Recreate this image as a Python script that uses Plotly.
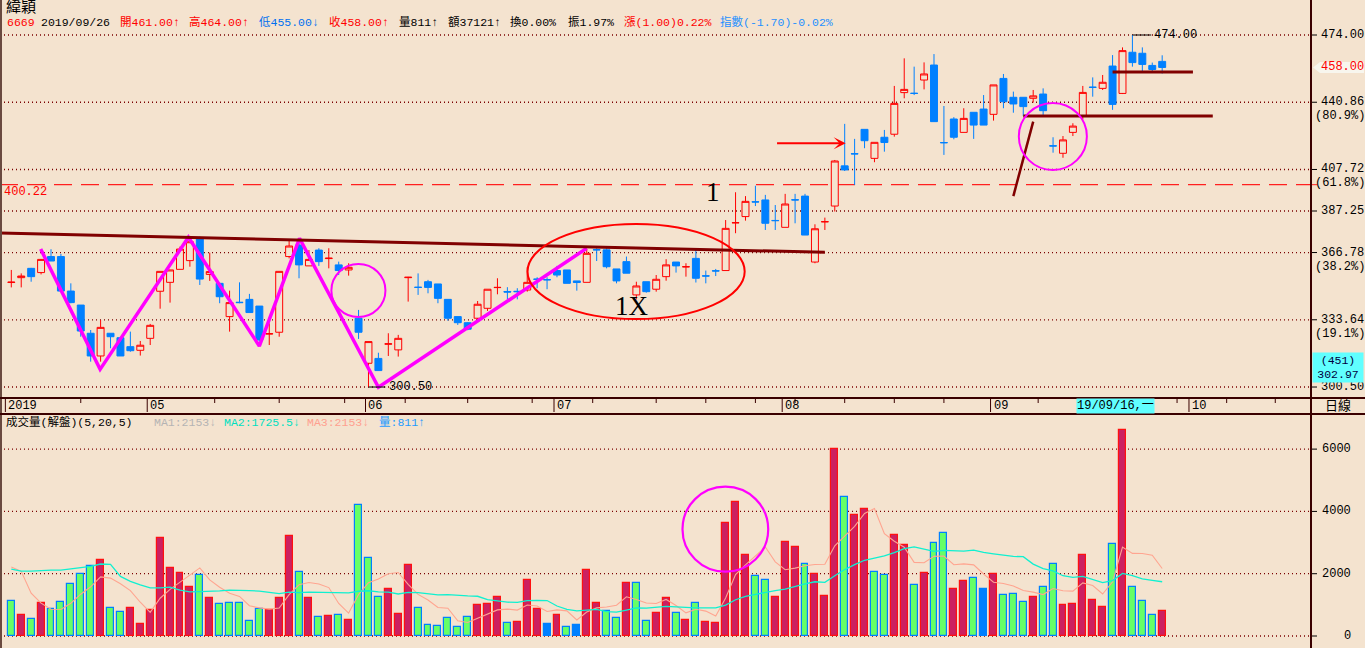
import plotly.graph_objects as go
import pandas as pd

# ---------------- data ----------------
days = list(range(1, 118))

opens = [352.0, 354.4, 359.0, 356.9, 364.8, 364.8, 347.8, 340.9, 327.0, 315.8,
         327.0, 324.8, 320.4, 318.6, 324.5, 347.7, 352.1, 358.5, 362.8, 373.8,
         356.0, 351.6, 335.2, 342.3, 343.7, 340.4, 326.6, 327.5, 364.8, 370.5,
         360.2, 368.0, 363.8, 360.7, 358.2, 334.4, 312.2, 314.6, 321.6, 318.8,
         354.4, 349.7, 352.4, 351.3, 343.7, 335.2, 332.2, 334.4, 339.3, 349.5,
         347.6, 347.7, 348.3, 353.7, 353.5, 357.9, 358.2, 352.8, 352.1, 368.2,
         368.1, 358.7, 362.3, 345.9, 352.4, 348.7, 354.9, 362.1, 359.7, 363.9,
         355.3, 357.8, 357.9, 381.4, 384.5, 391.8, 392.7, 382.6, 379.2, 392.8,
         394.6, 362.1, 381.9, 389.7, 409.5, 415.5, 427.5, 413.2, 423.6, 425.1,
         445.6, 445.3, 451.8, 459.2, 421.0, 432.6, 426.0, 435.9, 437.5, 434.9,
         452.6, 443.3, 443.3, 442.8, 444.9, 419.4, 415.7, 426.0, 434.1, 448.3,
         447.7, 458.7, 445.2, 465.5, 465.0, 459.0, 461.0]

highs = [358.2, 356.5, 359.2, 363.6, 368.4, 366.1, 351.6, 340.9, 328.6, 333.5,
         327.0, 324.8, 327.8, 323.2, 331.6, 357.5, 358.2, 369.7, 374.6, 374.6,
         366.7, 351.6, 348.0, 352.1, 346.4, 340.4, 331.9, 357.5, 373.3, 373.3,
         368.0, 368.9, 368.9, 362.3, 361.5, 338.5, 322.9, 317.4, 327.0, 326.2,
         354.8, 356.5, 353.3, 351.3, 343.7, 335.2, 332.5, 342.9, 348.7, 354.1,
         349.7, 349.2, 359.5, 354.6, 354.6, 360.2, 358.2, 352.8, 368.4, 368.9,
         368.9, 358.7, 364.8, 352.4, 352.4, 355.7, 363.5, 362.1, 361.5, 368.4,
         357.9, 358.7, 382.8, 396.5, 394.6, 399.7, 395.2, 390.2, 395.7, 395.7,
         395.7, 380.7, 384.0, 412.4, 430.2, 422.8, 427.5, 421.1, 427.2, 448.9,
         462.5, 458.4, 460.5, 464.6, 439.0, 433.5, 437.9, 435.9, 444.4, 449.4,
         454.8, 446.1, 443.3, 446.9, 447.7, 423.6, 424.2, 430.5, 448.9, 453.1,
         454.3, 464.1, 467.9, 474.0, 467.9, 460.4, 464.0]

lows = [349.6, 349.6, 352.4, 356.0, 362.6, 347.8, 341.8, 325.3, 313.0, 313.0,
        319.6, 315.8, 317.9, 316.0, 321.2, 339.1, 342.1, 358.5, 359.8, 350.8,
        352.8, 341.8, 327.8, 341.8, 337.2, 322.9, 321.2, 325.3, 363.9, 354.1,
        360.2, 360.2, 359.0, 355.7, 355.4, 324.2, 300.5, 308.6, 315.8, 315.5,
        342.6, 345.9, 346.7, 341.8, 333.2, 331.1, 328.5, 332.7, 338.0, 346.2,
        343.7, 343.7, 347.5, 349.2, 348.7, 354.6, 351.6, 348.0, 352.1, 362.6,
        359.0, 351.6, 356.6, 343.7, 347.0, 347.5, 352.9, 356.9, 354.9, 352.0,
        351.6, 355.2, 357.9, 376.3, 382.5, 389.7, 377.9, 377.9, 379.2, 381.2,
        375.4, 361.5, 377.9, 387.0, 407.0, 400.1, 418.2, 411.3, 416.5, 423.9,
        442.8, 444.4, 447.2, 431.3, 414.9, 422.6, 426.0, 422.8, 429.6, 431.8,
        437.9, 435.7, 434.1, 440.7, 434.6, 416.0, 413.5, 424.2, 432.4, 443.6,
        446.9, 437.1, 444.9, 458.4, 455.9, 455.9, 455.0]

closes = [352.2, 355.2, 354.9, 363.4, 362.6, 347.8, 342.1, 328.1, 315.8, 329.9,
          325.3, 315.8, 318.4, 321.1, 330.9, 357.5, 358.2, 368.5, 372.1, 353.7,
          357.4, 345.0, 342.1, 342.1, 337.2, 323.7, 326.8, 357.5, 370.0, 360.7,
          363.4, 362.3, 364.0, 357.9, 359.5, 327.5, 322.9, 308.6, 321.8, 324.5,
          354.6, 349.6, 349.6, 344.2, 334.4, 332.2, 329.0, 341.3, 348.7, 349.6,
          347.3, 347.5, 352.1, 353.6, 353.3, 355.7, 351.6, 352.0, 366.4, 368.1,
          359.8, 352.8, 356.6, 350.3, 347.5, 353.6, 360.7, 360.2, 359.8, 354.1,
          355.2, 357.7, 378.7, 381.5, 392.0, 391.7, 381.2, 382.5, 390.7, 392.7,
          375.4, 378.5, 382.0, 411.9, 407.5, 415.4, 421.9, 421.1, 421.0, 440.3,
          447.2, 445.2, 454.8, 431.3, 420.9, 423.6, 432.9, 429.6, 429.6, 449.4,
          441.1, 440.0, 438.7, 444.0, 436.7, 419.3, 422.3, 429.1, 445.7, 448.2,
          450.7, 439.8, 466.3, 460.4, 459.5, 457.0, 458.0]

volumes = [1129, 677, 548, 1064, 871, 1097, 1677, 2000, 2258, 2451,
           903, 774, 903, 387, 839, 3161, 2193, 2032, 1580, 1967,
           1226, 1032, 1064, 1064, 484, 871, 839, 1226, 3225, 2064,
           1226, 613, 645, 677, 516, 4193, 2516, 1258, 1516, 710,
           2290, 903, 355, 323, 581, 290, 613, 1000, 1032, 1258,
           419, 452, 1806, 871, 387, 677, 290, 355, 2129, 1064,
           806, 581, 1709, 1709, 484, 742, 1226, 742, 516, 1064,
           452, 419, 3644, 4289, 2612, 1935, 1806, 1258, 3032, 2870,
           2322, 2000, 1290, 6000, 4451, 3870, 4064, 2070, 1957, 3243,
           2919, 1622, 2011, 2984, 3308, 1524, 1751, 1849, 1524, 1978,
           1330, 1362, 1103, 1265, 1589, 2303, 1005, 1038, 2594, 1168,
           941, 2951, 6616, 1589, 1135, 681, 811]

# r = up vs previous close, g = down, b = unchanged
vol_dir = list("grgrgggggr" "ggrrrrrrrg" "rgggggrrrg" "rgrgrgggrr"
               "rggggggrrr" "grrrbrgbrr" "ggrggrrgrg" "rrrrrggrrr"
               "grrrgrrggr" "rgrggrrgbr" "gggrggrrrr" "rgrgggr")

# moving averages at the left edge (their earlier inputs are off-screen)
ma5_head = [2215, 2075, 1376, 1054]
ma20_head = [2150, 2086, 2086, 2107, 2118, 2118, 2150, 2193, 2236, 2311,
             2300, 1913, 1752, 1645, 1548, 1548, 1570, 1473, 1419]

price_levels = [474.00, 440.86, 407.72, 387.25, 366.78, 333.64, 300.50]
level_pct = {440.86: "(80.9%)", 407.72: "(61.8%)", 366.78: "(38.2%)", 333.64: "(19.1%)"}
dash_level = 400.22
vol_levels = [0, 2000, 4000, 6000]

month_ticks = [0.7, 15, 37, 56, 79, 100, 120]
month_labels = ["2019", "05", "06", "07", "08", "09", "10"]
minor_ticks = [8, 21.5, 28, 34.6, 40.7, 47, 53.5, 59.6, 66, 71, 76, 80, 85,
               90, 95, 104.5, 118.5, 123.5, 128.4]

# hand drawings on the chart (bar index, price)
zigzag_x = [3.96, 9.95, 18.85, 26.0, 30.05, 38.0, 59.0]
zigzag_y = [368.5, 309.2, 374.3, 320.7, 373.8, 300.4, 368.9]
resist_line = [(-0.14, 376.4), (83.0, 366.9)]
hline_a = [(112.0, 455.8), (120.1, 455.8)]
hline_b = [(103.0, 434.1), (122.1, 434.1)]
diag_line = [(102.0, 394.6), (104.0, 431.3)]
circle_a = (33.26, 38.71, 335.0, 361.1)
circle_b = (102.55, 109.41, 407.5, 440.5)
circle_vol = (68.65, 77.29, 2064, 4793)
ellipse_red = (53.03, 74.92, 334.0, 380.9)
arrow_tail = (78.03, 420.6)
arrow_tip = (85.1, 420.6)

# ---------------- geometry / style ----------------
W, H = 1365, 648
PLOT_R = 1311
MAIN_BOTTOM = 398
VOL_TOP = 414
X_LO, X_HI = -0.14, 132.0
P_LO, P_HI = 295.09, 491.25
V_LO, V_HI = -385, 7127

BG = "#F4E3CF"
UP = "#FF0000"
DOWN = "#0080FF"
GRID = "#7A0000"
FRAME = "#3A0000"
MAROON = "#800000"
MAGENTA = "#FF00FF"
CYAN = "#60FFFF"
MONO = "'Liberation Mono', 'Noto Sans CJK TC', monospace"
SERIF = "'Liberation Serif', serif"


def px(x):
    return x / W


def py(y):
    return 1 - y / H


vol = pd.Series(volumes, dtype=float)
ma5 = vol.rolling(5).mean().tolist()
ma20 = vol.rolling(20).mean().tolist()
ma5[:len(ma5_head)] = ma5_head
ma20[:len(ma20_head)] = ma20_head

fill_map = {"r": "#CC2060", "g": "#66FF66", "b": "#0080FF"}
edge_map = {"r": "#FF1010", "g": "#0080FF", "b": "#0080FF"}

fig = go.Figure()

fig.add_trace(go.Candlestick(
    x=days, open=opens, high=highs, low=lows, close=closes,
    increasing=dict(line=dict(color=UP, width=1), fillcolor=BG),
    decreasing=dict(line=dict(color=DOWN, width=1), fillcolor=DOWN),
    whiskerwidth=0, hoverinfo="skip", showlegend=False, xaxis="x", yaxis="y"))

fig.add_trace(go.Scatter(x=zigzag_x, y=zigzag_y, mode="lines",
                         line=dict(color=MAGENTA, width=3.5),
                         hoverinfo="skip", showlegend=False, xaxis="x", yaxis="y"))

fig.add_trace(go.Bar(
    x=days, y=volumes, width=0.7,
    marker=dict(color=[fill_map[d] for d in vol_dir],
                line=dict(color=[edge_map[d] for d in vol_dir], width=1.2)),
    hoverinfo="skip", showlegend=False, xaxis="x2", yaxis="y2"))

fig.add_trace(go.Scatter(x=days, y=ma5, mode="lines", line=dict(color="#FFA590", width=1.1),
                         hoverinfo="skip", showlegend=False, xaxis="x2", yaxis="y2"))
fig.add_trace(go.Scatter(x=days, y=ma20, mode="lines", line=dict(color="#10F0D0", width=1.3),
                         hoverinfo="skip", showlegend=False, xaxis="x2", yaxis="y2"))

shapes = []
# price grid (dotted)
for lv in price_levels:
    shapes.append(dict(type="line", xref="paper", yref="y", x0=0, x1=px(PLOT_R), y0=lv, y1=lv,
                       line=dict(color=GRID, width=1.3, dash="1px,3px"), layer="below"))
    shapes.append(dict(type="line", xref="paper", yref="y", x0=px(PLOT_R), x1=px(PLOT_R + 6),
                       y0=lv, y1=lv, line=dict(color="#000000", width=1)))
# volume grid
for lv in vol_levels:
    shapes.append(dict(type="line", xref="paper", yref="y2", x0=0, x1=px(PLOT_R), y0=lv, y1=lv,
                       line=dict(color=GRID, width=1.3, dash="1px,3px"), layer="below"))
    shapes.append(dict(type="line", xref="paper", yref="y2", x0=px(PLOT_R), x1=px(PLOT_R + 6),
                       y0=lv, y1=lv, line=dict(color="#000000", width=1)))
# dashed 400.22 line
shapes.append(dict(type="line", xref="paper", yref="y", x0=0, x1=px(PLOT_R), y0=dash_level, y1=dash_level,
                   line=dict(color="#FF2020", width=1.3, dash="18px,9px"), layer="below"))
shapes.append(dict(type="line", xref="paper", yref="y", x0=px(PLOT_R), x1=px(PLOT_R + 6),
                   y0=dash_level, y1=dash_level, line=dict(color="#FF2020", width=1)))

# drawings
for (a, b), w in [(resist_line, 3), (hline_a, 3), (hline_b, 3), (diag_line, 2.5)]:
    shapes.append(dict(type="line", xref="x", yref="y", x0=a[0], y0=a[1], x1=b[0], y1=b[1],
                       line=dict(color=MAROON, width=w)))
for (x0, x1, y0, y1) in [circle_a, circle_b]:
    shapes.append(dict(type="circle", xref="x", yref="y", x0=x0, x1=x1, y0=y0, y1=y1,
                       line=dict(color=MAGENTA, width=2)))
x0, x1, y0, y1 = circle_vol
shapes.append(dict(type="circle", xref="x2", yref="y2", x0=x0, x1=x1, y0=y0, y1=y1,
                   line=dict(color=MAGENTA, width=2.2)))
x0, x1, y0, y1 = ellipse_red
shapes.append(dict(type="circle", xref="x", yref="y", x0=x0, x1=x1, y0=y0, y1=y1,
                   line=dict(color="#FF0000", width=2)))
# hi / lo label leaders
shapes.append(dict(type="line", xref="x", yref="y", x0=114.0, x1=115.9, y0=474.0, y1=474.0,
                   line=dict(color="#000000", width=1)))
shapes.append(dict(type="line", xref="x", yref="y", x0=37.0, x1=38.7, y0=300.5, y1=300.5,
                   line=dict(color="#000000", width=1)))

# frame
shapes.append(dict(type="line", xref="paper", yref="paper", x0=px(PLOT_R), x1=px(PLOT_R), y0=0, y1=1,
                   line=dict(color=FRAME, width=2)))
shapes.append(dict(type="line", xref="paper", yref="paper", x0=px(1), x1=px(1), y0=0, y1=1,
                   line=dict(color="#6A4A40", width=2)))
for yy in (MAIN_BOTTOM, VOL_TOP):
    shapes.append(dict(type="line", xref="paper", yref="paper", x0=0, x1=1, y0=py(yy), y1=py(yy),
                       line=dict(color=FRAME, width=2)))
# date row ticks
for t in month_ticks:
    shapes.append(dict(type="line", xref="x", yref="paper", x0=t - 0.3, x1=t - 0.3,
                       y0=py(MAIN_BOTTOM), y1=py(VOL_TOP - 2), line=dict(color=FRAME, width=1)))
for t in minor_ticks:
    shapes.append(dict(type="line", xref="x", yref="paper", x0=t, x1=t,
                       y0=py(MAIN_BOTTOM), y1=py(MAIN_BOTTOM + 5), line=dict(color=FRAME, width=1)))
# 458 tag on right axis
shapes.append(dict(type="path", xref="paper", yref="paper",
                   path=f"M {px(1313)},{py(67.5)} L {px(1320)},{py(62)} L {px(1364)},{py(62)} "
                        f"L {px(1364)},{py(73)} L {px(1320)},{py(73)} Z",
                   fillcolor="#F8F6EE", line=dict(width=0)))

ann = []


def text(x, y, s, color="#000000", size=12, xref="paper", yref="paper", xanchor="left",
         family=MONO, **kw):
    d = dict(x=x, y=y, text=s, xref=xref, yref=yref, xanchor=xanchor, yanchor="middle",
             showarrow=False, font=dict(family=family, size=size, color=color))
    d.update(kw)
    ann.append(d)


# header
text(px(4), py(8), "緯穎", size=15)
hdr = [(5, "6669", "#FF0000"), (39, "2019/09/26", "#000000"), (118, "開461.00↑", "#FF0000"),
       (187, "高464.00↑", "#FF0000"), (257, "低455.00↓", "#0070F0"), (327, "收458.00↑", "#FF0000"),
       (397, "量811↑", "#000000"), (446, "額37121↑", "#000000"), (508, "換0.00%", "#000000"),
       (566, "振1.97%", "#000000"), (622, "漲(1.00)0.22%", "#FF0000"),
       (718, "指數(-1.70)-0.02%", "#1E90FF")]
for x, s, c in hdr:
    text(px(x), py(22), s, color=c, size=11.5)

# volume header
vhdr = [(4, "成交量(解盤)(5,20,5)", "#000000"), (152, "MA1:2153↓", "#B4B4B4"),
        (222, "MA2:1725.5↓", "#00E0C0"), (305, "MA3:2153↓", "#FFA090"), (377, "量:811↑", "#1E9BFF")]
for x, s, c in vhdr:
    text(px(x), py(422), s, color=c, size=11.5)

# right axis labels
for lv in price_levels:
    text(px(1319), lv, f"{lv:.2f}", yref="y")
    if lv in level_pct:
        text(px(1313), lv, level_pct[lv], yref="y", yshift=-14)
text(px(1319), 458.0, "458.00", color="#FF0000", yref="y")
text(px(2), dash_level, f"{dash_level:.2f}", color="#FF0000", yref="y", yshift=-7)
for lv in vol_levels:
    text(px(1353), lv, str(lv), yref="y2", xanchor="right")

# chart labels
text(116.0, 474.0, "474.00", xref="x", yref="y")
text(38.9, 300.5, "300.50", xref="x", yref="y")
text(71.7, 396.6, "1", xref="x", yref="y", xanchor="center", size=27, family=SERIF)
text(63.6, 340.4, "1X", xref="x", yref="y", xanchor="center", size=27, family=SERIF)

# date row
for t, s in zip(month_ticks, month_labels):
    text(t - 0.2, py(406), s, xref="x")
text(px(1076), py(406), "19/09/16,一", bgcolor=CYAN, borderpad=0)
text(px(1338), py(406), "日線", xanchor="center", size=13)

# cursor price box
text(px(1338), py(367.5), "(451)<br>302.97", xanchor="center", color="#000040",
     bgcolor=CYAN, width=50, height=29, borderpad=0, size=11.5)

# arrow
ann.append(dict(x=arrow_tip[0], y=arrow_tip[1], ax=arrow_tail[0], ay=arrow_tail[1],
                xref="x", yref="y", axref="x", ayref="y", text="", showarrow=True,
                arrowhead=3, arrowsize=1, arrowwidth=2, arrowcolor="#FF0000"))

fig.update_layout(
    width=W, height=H, margin=dict(l=0, r=0, t=0, b=0),
    paper_bgcolor=BG, plot_bgcolor=BG, showlegend=False,
    boxgap=0.3, boxgroupgap=0.0, bargap=0,
    xaxis=dict(domain=[0, px(PLOT_R)], range=[X_LO, X_HI], visible=False,
               rangeslider=dict(visible=False), anchor="y", fixedrange=True),
    yaxis=dict(domain=[py(MAIN_BOTTOM), 1], range=[P_LO, P_HI], visible=False, anchor="x"),
    xaxis2=dict(domain=[0, px(PLOT_R)], range=[X_LO, X_HI], visible=False, anchor="y2",
                matches="x"),
    yaxis2=dict(domain=[0, py(VOL_TOP)], range=[V_LO, V_HI], visible=False, anchor="x2"),
    shapes=shapes, annotations=ann,
)

fig.write_html("out.html")
